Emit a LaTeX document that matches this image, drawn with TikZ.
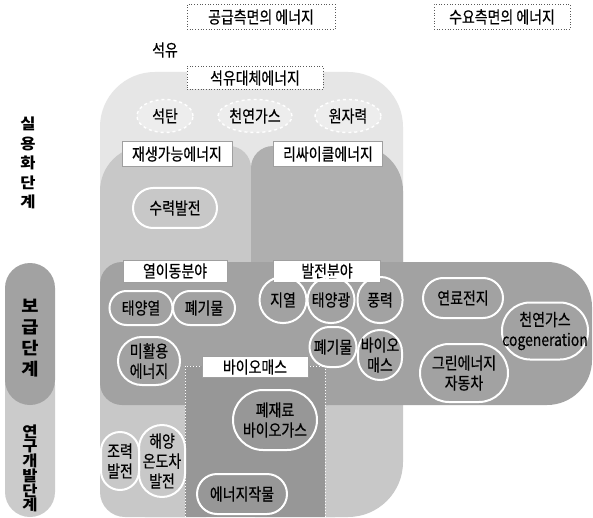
\documentclass[tikz,border=0pt]{standalone}
\usepackage{fontspec}
\setmainfont{Noto Sans CJK KR}
\newfontfamily\kr[FakeStretch=0.82,FakeBold=0.4]{Noto Sans CJK KR}
\newfontfamily\krw[FakeStretch=1.1]{Noto Sans CJK KR}
\usetikzlibrary{shapes.geometric}
\definecolor{cOuter}{HTML}{E6E6E6}
\definecolor{cRenew}{HTML}{C8C8C8}
\definecolor{cRecyc}{HTML}{AFAFAF}
\definecolor{cBand}{HTML}{A2A2A2}
\definecolor{cBio}{HTML}{979797}
\definecolor{cRD}{HTML}{CBCBCB}
\tikzset{
  lbl/.style={font=\kr\fontsize{17}{20}\selectfont, inner sep=0pt, align=center, text=black},
  wbox/.style={lbl, draw=gray!75, line width=0.5pt, fill=white},
  dbox/.style={lbl, draw=black!65, dotted, line width=0.7pt, fill=white},
  pill/.style={lbl, draw=white, line width=2pt},
  oval/.style={lbl, ellipse, draw=white, dashed, line width=1.4pt, fill=cOuter!70!white},
  vtxt/.style={inner sep=0pt, align=center, text=black},
}
\begin{document}
\begin{tikzpicture}[x=1pt,y=-1pt]
\path[use as bounding box] (0,0) rectangle (593,518);
\fill[white] (0,0) rectangle (593,518);
% outer region
\fill[cOuter, rounded corners=55pt] (100,72) rectangle (403,460);
% renewable region
\fill[cRenew, rounded corners=45pt] (100,146) rectangle (251,517);
\fill[cRenew, rounded corners=22pt] (160,146) rectangle (251,400);
\fill[cRenew, rounded corners=25pt] (100,300) rectangle (360,517);
\fill[cRenew, rounded corners=55pt] (200,300) rectangle (403,517);
% recycle region
\fill[cRecyc, rounded corners=45pt] (251,146) rectangle (403,330);
\fill[cRecyc, rounded corners=22pt] (251,146) rectangle (340,330);
% deployment band
\fill[cBand, rounded corners=22pt] (100,262) rectangle (350,405);
\fill[cBand, rounded corners=45pt] (200,262) rectangle (592,405);
% biomass region
\fill[cBio] (185,366) rectangle (325,517);
\draw[white, dotted, line width=1pt] (185,517) -- (185,366) -- (325,366) -- (325,517);
% left stage pills
\fill[cRD, rounded corners=25pt] (5,360) rectangle (55,517);
\fill[cBand, rounded corners=25pt] (5,263) rectangle (55,405);

% left stage labels
\node[vtxt, font=\krw\fontsize{15}{19.5}\selectfont\bfseries] (s1) at (28,163) {실\\용\\화\\단\\계};
\node[vtxt, font=\krw\fontsize{17}{21}\selectfont\bfseries] (s2) at (30,338) {보\\급\\단\\계};
\node[vtxt, font=\krw\fontsize{15}{14}\selectfont\bfseries] (s3) at (30,468) {연\\구\\개\\발\\단\\계};

% headers
\node[dbox, minimum width=148pt, minimum height=25pt] (sup) at (261,17) {공급측면의 에너지};
\node[dbox, minimum width=136pt, minimum height=25pt] (dem) at (502,17) {수요측면의 에너지};
\node[lbl] (oil) at (165,50) {석유};
\node[dbox, minimum width=136pt, minimum height=23pt] (alt) at (255,78) {석유대체에너지};
\node[oval, minimum width=56pt, minimum height=33pt] (coal) at (165,116) {석탄};
\node[oval, minimum width=74pt, minimum height=33pt] (lng) at (255,116) {천연가스};
\node[oval, minimum width=66pt, minimum height=33pt] (nuc) at (348,116) {원자력};
\node[wbox, minimum width=110pt, minimum height=25pt] (ren) at (177,154) {재생가능에너지};
\node[wbox, minimum width=109pt, minimum height=25pt] (rec) at (328,154) {리싸이클에너지};
\node[pill, minimum width=84pt, minimum height=40pt, rounded corners=20pt] (hydro) at (175,208) {수력발전};
\node[wbox, minimum width=104pt, minimum height=22pt] (heat) at (175,271) {열이동분야};
\node[wbox, minimum width=107pt, minimum height=22pt] (power) at (327,271) {발전분야};

% band items
\node[pill, minimum width=63pt, minimum height=34pt, rounded corners=17pt] (sth) at (141,308) {태양열};
\node[pill, minimum width=62pt, minimum height=34pt, rounded corners=17pt] (waste1) at (204,308) {폐기물};
\node[pill, minimum width=47pt, minimum height=46pt, rounded corners=23pt] (geo) at (283,300) {지열};
\node[pill, minimum width=47pt, minimum height=46pt, rounded corners=23pt] (pv) at (331,300) {태양광};
\node[pill, minimum width=45pt, minimum height=46pt, rounded corners=22pt] (wind) at (380,300) {풍력};
\node[pill, minimum width=47pt, minimum height=40pt, rounded corners=20pt] (waste2) at (333,347) {폐기물};
\node[pill, minimum width=44pt, minimum height=50pt, rounded corners=22pt] (biom) at (380,355) {바이오\\매스};
\node[pill, minimum width=62pt, minimum height=48pt, rounded corners=24pt] (unused) at (149,361) {미활용\\에너지};
\node[pill, minimum width=80pt, minimum height=40pt, rounded corners=20pt] (fc) at (463,298) {연료전지};
\node[pill, minimum width=86pt, minimum height=57pt, rounded corners=28pt] (cogen) at (545,331) {천연가스\\cogeneration};
\node[pill, minimum width=88pt, minimum height=58pt, rounded corners=29pt] (car) at (464,373) {그린에너지\\자동차};

% biomass
\node[wbox, minimum width=106pt, minimum height=21pt] (bio) at (255,367) {바이오매스};
\node[pill, minimum width=84pt, minimum height=60pt, rounded corners=30pt] (biogas) at (275,420) {폐재료\\바이오가스};
\node[pill, minimum width=90pt, minimum height=40pt, rounded corners=20pt] (crop) at (242,494) {에너지작물};

% R&D items
\node[pill, minimum width=38pt, minimum height=58pt, rounded corners=19pt] (tidal) at (120,461) {조력\\발전};
\node[pill, minimum width=46pt, minimum height=72pt, rounded corners=23pt] (otec) at (162,461) {해양\\온도차\\발전};
\end{tikzpicture}
\end{document}
